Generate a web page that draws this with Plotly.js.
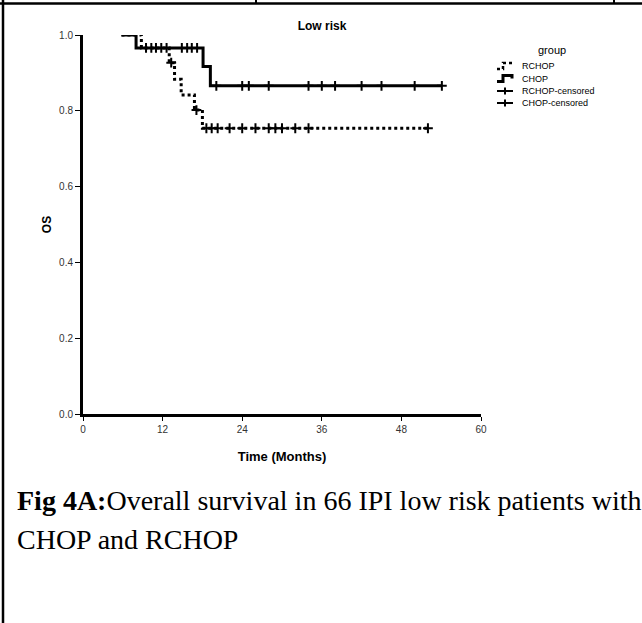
<!DOCTYPE html>
<html><head><meta charset="utf-8">
<script src="https://cdn.plot.ly/plotly-3.0.1.min.js"></script>
<style>body{margin:0;background:#fff}#chart{width:642px;height:623px}</style>
</head><body><div id="chart"></div>
<script>
// Kaplan-Meier steps (months, survival)
const rchopTime = [5.8, 8.8, 13.0, 13.8, 14.8, 16.8, 18.0, 52.0];
const rchopSurv = [1.0, 0.966, 0.927, 0.883, 0.842, 0.802, 0.754, 0.754];
const chopTime = [5.8, 8.0, 18.1, 19.2, 54.1];
const chopSurv = [1.0, 0.966, 0.917, 0.866, 0.866];
// censored observations
const rchopCensTime = [9.5, 11.0, 13.3, 17.1, 18.6, 19.4, 20.3, 22.1, 24.0, 26.0, 28.0, 29.0, 30.0, 32.0, 34.0, 52.0];
const rchopCensSurv = [0.966, 0.966, 0.927, 0.802, 0.754, 0.754, 0.754, 0.754, 0.754, 0.754, 0.754, 0.754, 0.754, 0.754, 0.754, 0.754];
const chopCensTime = [10.3, 11.8, 12.6, 14.9, 15.7, 16.4, 17.2, 20.1, 24.0, 25.0, 28.0, 34.0, 36.0, 38.0, 42.0, 45.0, 50.0, 54.1];
const chopCensSurv = [0.966, 0.966, 0.966, 0.966, 0.966, 0.966, 0.966, 0.866, 0.866, 0.866, 0.866, 0.866, 0.866, 0.866, 0.866, 0.866, 0.866, 0.866];
const xTicks = [0, 12, 24, 36, 48, 60];
const yTicks = [0, 0.2, 0.4, 0.6, 0.8, 1.0];
const yTickText = ['0.0', '0.2', '0.4', '0.6', '0.8', '1.0'];
const legendTitle = 'group';
const legendNames = ['RCHOP', 'CHOP', 'RCHOP-censored', 'CHOP-censored'];

const L = 83, R = 481, T = 35, B = 414;
const px = x => (x - L) / (R - L);
const py = y => (B - y) / (B - T);
const P = (x, y) => px(x).toFixed(5) + ',' + py(y).toFixed(5);

const SANS = 'Liberation Sans, Arial, sans-serif';
const cens = {symbol: 'cross-thin', size: 7, color: '#000', line: {width: 2, color: '#000'}};

const traces = [
  {x: rchopTime, y: rchopSurv, mode: 'lines', line: {shape: 'hv', width: 3, dash: 'dot', color: '#000'}, name: legendNames[0]},
  {x: chopTime, y: chopSurv, mode: 'lines', line: {shape: 'hv', width: 3, color: '#000'}, name: legendNames[1]},
  {x: rchopCensTime, y: rchopCensSurv, mode: 'markers', marker: cens, name: legendNames[2], cliponaxis: false},
  {x: chopCensTime, y: chopCensSurv, mode: 'markers', marker: cens, name: legendNames[3], cliponaxis: false}
];

const shapes = [];
const annotations = [];
// page frame
const ln = (x0, y0, x1, y1, w, dash) => shapes.push({type: 'line', xref: 'paper', yref: 'paper',
  x0: px(x0), y0: py(y0), x1: px(x1), y1: py(y1), line: {color: '#000', width: w, dash: dash || 'solid'}});
ln(0, 3.5, 642, 3.5, 2.5);
ln(256, 0, 256, 4, 2);
ln(614, 0, 614, 4, 2);
ln(3, 0, 3, 623, 2.5);

// legend
annotations.push({xref: 'paper', yref: 'paper', x: px(552), y: py(50), text: legendTitle, showarrow: false,
  xanchor: 'center', yanchor: 'middle', font: {family: SANS, size: 11, color: '#000'}});
const rowY = [66, 78.5, 91, 103];
legendNames.forEach((n, i) => {
  annotations.push({xref: 'paper', yref: 'paper', x: px(520), y: py(rowY[i]), text: n, showarrow: false,
    xanchor: 'left', yanchor: 'middle', font: {family: SANS, size: 9, color: '#000'}});
});
const stepPath = y => 'M' + P(497, y + 3) + ' L' + P(503, y + 3) + ' L' + P(503, y - 3) + ' L' + P(512, y - 3) + ' L' + P(512, y);
shapes.push({type: 'path', xref: 'paper', yref: 'paper', path: stepPath(rowY[0]), line: {color: '#000', width: 2.5, dash: 'dot'}});
shapes.push({type: 'path', xref: 'paper', yref: 'paper', path: stepPath(rowY[1]), line: {color: '#000', width: 3}});
[2, 3].forEach(i => {
  ln(497, rowY[i], 513, rowY[i], 2);
  ln(505, rowY[i] - 3.5, 505, rowY[i] + 3.5, 2);
});

// caption
annotations.push({xref: 'paper', yref: 'paper', x: px(15), y: py(518), xanchor: 'left', yanchor: 'bottom', showarrow: false,
  text: '<b>Fig 4A:</b>Overall survival in 66 IPI low risk patients with', font: {family: 'Liberation Serif, Times New Roman, serif', size: 28, color: '#000'}});
annotations.push({xref: 'paper', yref: 'paper', x: px(15), y: py(557), xanchor: 'left', yanchor: 'bottom', showarrow: false,
  text: 'CHOP and RCHOP', font: {family: 'Liberation Serif, Times New Roman, serif', size: 28, color: '#000'}});

const layout = {
  width: 642, height: 623,
  margin: {l: L, r: 642 - R, t: T, b: 623 - B, pad: 0},
  paper_bgcolor: '#fff', plot_bgcolor: '#fff',
  showlegend: false,
  title: {text: '<b>Low risk</b>', x: 322 / 642, xref: 'container', xanchor: 'center', y: 1 - 26 / 623, yref: 'container', yanchor: 'middle',
    font: {family: SANS, size: 12, color: '#000'}},
  xaxis: {range: [0, 60], tickvals: xTicks, ticktext: xTicks.map(String), showgrid: false, zeroline: false,
    showline: true, linewidth: 3, linecolor: '#000', ticks: 'outside', ticklen: 4, tickwidth: 1, tickcolor: '#000',
    tickfont: {family: SANS, size: 10, color: '#333'},
    title: {text: '<b>Time (Months)</b>', standoff: 18, font: {family: SANS, size: 13, color: '#000'}}},
  yaxis: {range: [0, 1], tickvals: yTicks, ticktext: yTickText, showgrid: false, zeroline: false,
    showline: true, linewidth: 3, linecolor: '#000', ticks: 'outside', ticklen: 5, tickwidth: 1, tickcolor: '#000',
    tickfont: {family: SANS, size: 10, color: '#333'},
    title: {text: '<b>OS</b>', standoff: 5, font: {family: SANS, size: 12, color: '#000'}}},
  shapes: shapes, annotations: annotations
};
Plotly.newPlot('chart', traces, layout, {displayModeBar: false, staticPlot: true});
</script>
</body></html>
